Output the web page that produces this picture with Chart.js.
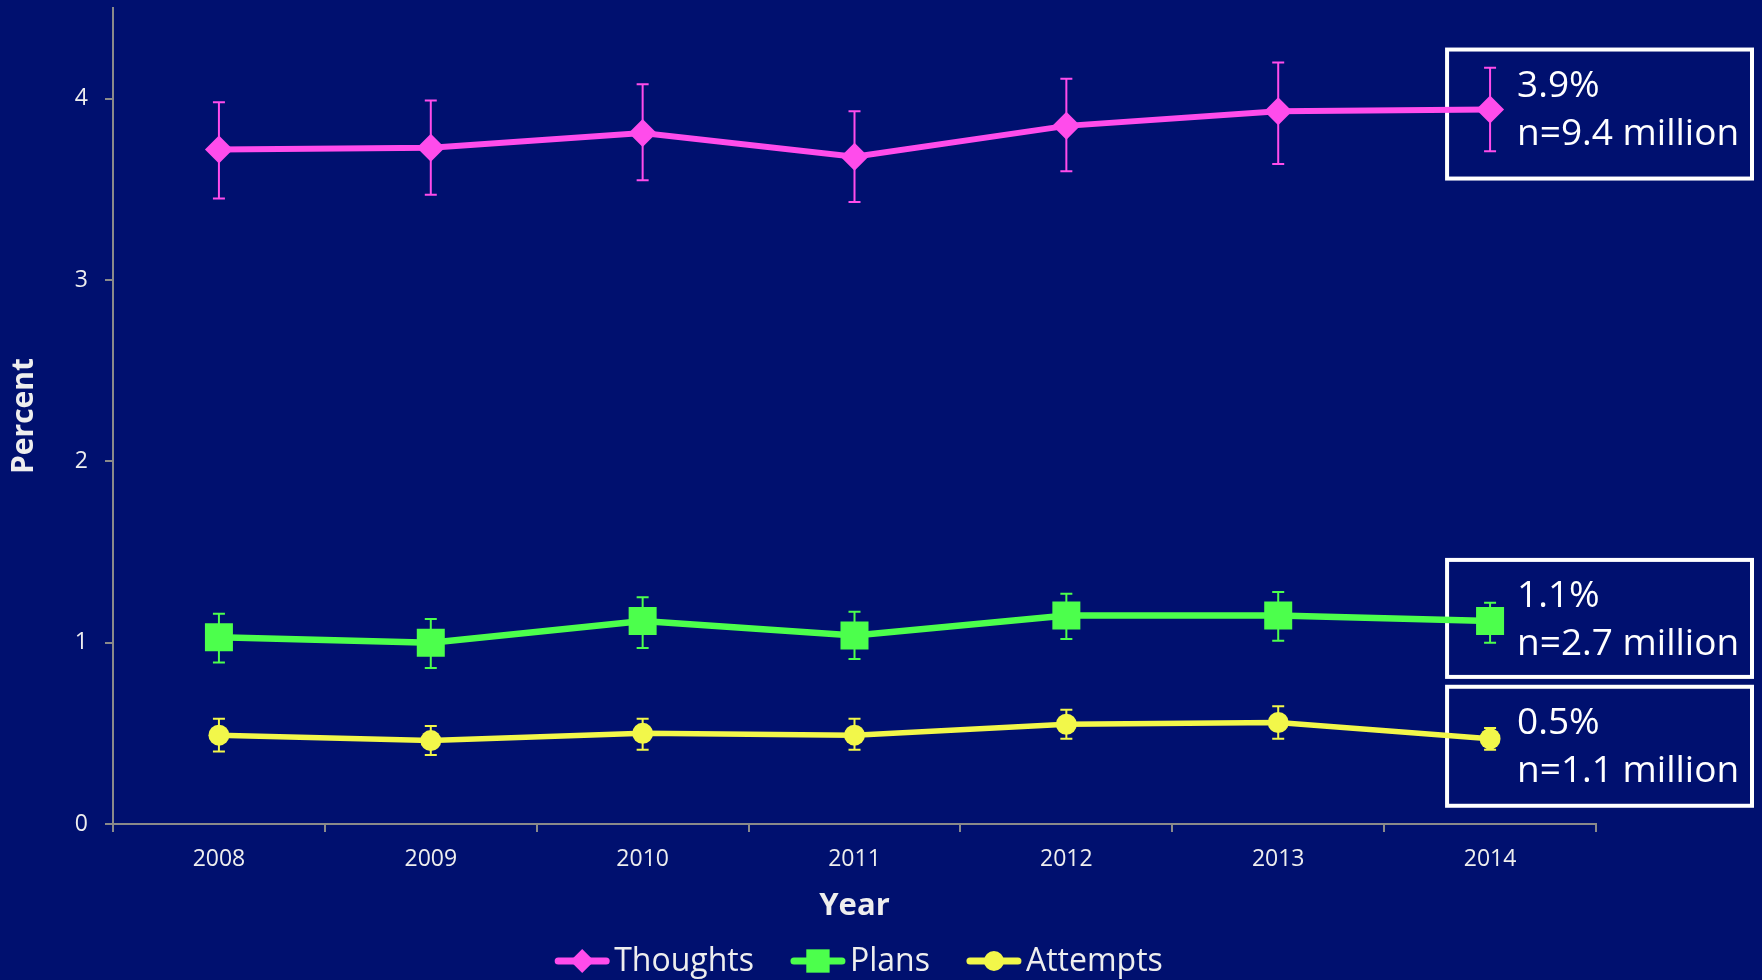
<!DOCTYPE html>
<html>
<head>
<meta charset="utf-8">
<script src="https://cdn.jsdelivr.net/npm/chart.js@4.4.1/dist/chart.umd.min.js"></script>
<style>
  html, body { margin: 0; padding: 0; background: #00106F; }
  #wrap { width: 1762px; height: 980px; }
</style>
</head>
<body>
<div id="wrap"><canvas id="chart" width="1762" height="980"></canvas></div>
<script>
// dati
const years = ['2008', '2009', '2010', '2011', '2012', '2013', '2014'];

const thoughts     = [3.72, 3.73, 3.81, 3.68, 3.85, 3.93, 3.94];
const thoughtsHigh = [3.98, 3.99, 4.08, 3.93, 4.11, 4.20, 4.17];
const thoughtsLow  = [3.45, 3.47, 3.55, 3.43, 3.60, 3.64, 3.71];

const plans     = [1.03, 1.00, 1.12, 1.04, 1.15, 1.15, 1.12];
const plansHigh = [1.16, 1.13, 1.25, 1.17, 1.27, 1.28, 1.22];
const plansLow  = [0.89, 0.86, 0.97, 0.91, 1.02, 1.01, 1.00];

const attempts     = [0.49, 0.46, 0.50, 0.49, 0.55, 0.56, 0.47];
const attemptsHigh = [0.58, 0.54, 0.58, 0.58, 0.63, 0.65, 0.53];
const attemptsLow  = [0.40, 0.38, 0.41, 0.41, 0.47, 0.47, 0.41];

const yTicks = [0, 1, 2, 3, 4];

const boxPercent = ['3.9%', '1.1%', '0.5%'];
const boxCount   = ['n=9.4 million', 'n=2.7 million', 'n=1.1 million'];

const FONT = "'Open Sans', sans-serif";
const TEXT = '#EEEEEE';
const AXIS = '#8A8A8A';
const PINK = '#FF4CEB';
const GREEN = '#4CFF4C';
const YELLOW = '#F2F74A';

Chart.defaults.font.family = FONT;
Chart.defaults.color = TEXT;

// barre di errore, disegnate sotto i marker
const errorBars = {
    id: 'errorBars',
    beforeDatasetsDraw(chart) {
        const ctx = chart.ctx;
        const y = chart.scales.y;
        chart.data.datasets.forEach((ds, i) => {
            const meta = chart.getDatasetMeta(i);
            ctx.save();
            ctx.strokeStyle = ds.borderColor;
            ctx.lineWidth = 2;
            meta.data.forEach((pt, j) => {
                const yh = y.getPixelForValue(ds.errHigh[j]);
                const yl = y.getPixelForValue(ds.errLow[j]);
                ctx.beginPath();
                ctx.moveTo(pt.x, yh); ctx.lineTo(pt.x, yl);
                ctx.moveTo(pt.x - 6, yh); ctx.lineTo(pt.x + 6, yh);
                ctx.moveTo(pt.x - 6, yl); ctx.lineTo(pt.x + 6, yl);
                ctx.stroke();
            });
            ctx.restore();
        });
    }
};

// riquadri con il valore finale
const endBoxes = {
    id: 'endBoxes',
    beforeDatasetsDraw(chart) {
        const ctx = chart.ctx;
        const tops = [-60, -61, -52];
        const heights = [129, 117, 119];
        chart.data.datasets.forEach((ds, i) => {
            const meta = chart.getDatasetMeta(i);
            const pt = meta.data[meta.data.length - 1];
            const left = pt.x - 43;
            const right = chart.width - 10;
            const top = pt.y + tops[i];
            ctx.save();
            ctx.strokeStyle = '#FFFFFF';
            ctx.lineWidth = 4;
            ctx.strokeRect(left, top, right - left, heights[i]);
            ctx.fillStyle = '#FFFFFF';
            ctx.font = '37px ' + FONT;
            ctx.textBaseline = 'alphabetic';
            ctx.textAlign = 'left';
            ctx.fillText(boxPercent[i], pt.x + 27, top + 47);
            ctx.fillText(boxCount[i], pt.x + 27, top + 95);
            ctx.restore();
        });
    }
};

// legenda con linea + marker
const lineLegend = {
    id: 'lineLegend',
    afterDraw(chart) {
        const ctx = chart.ctx;
        const area = chart.chartArea;
        const iconW = 56, gap = 4, itemGap = 36;
        ctx.save();
        ctx.font = '32px ' + FONT;
        const items = chart.data.datasets.map(ds => ({ ds, w: iconW + gap + ctx.measureText(ds.label).width }));
        const total = items.reduce((a, it) => a + it.w, 0) + itemGap * (items.length - 1);
        let x = (area.left + area.right) / 2 + 4 - total / 2;
        const y = 961;
        items.forEach(({ ds, w }) => {
            ctx.strokeStyle = ds.borderColor;
            ctx.fillStyle = ds.borderColor;
            ctx.lineWidth = 7;
            ctx.lineCap = 'round';
            ctx.beginPath();
            ctx.moveTo(x + 4, y);
            ctx.lineTo(x + iconW - 4, y);
            ctx.stroke();
            Chart.helpers.drawPoint(ctx, {
                pointStyle: ds.pointStyle,
                radius: ds.legendRadius,
                rotation: 0,
                borderWidth: 0
            }, x + iconW / 2, y);
            ctx.fillStyle = TEXT;
            ctx.textBaseline = 'middle';
            ctx.textAlign = 'left';
            ctx.fillText(ds.label, x + iconW + gap, y + 1);
            x += w + itemGap;
        });
        ctx.restore();
    }
};

const ctx = document.getElementById('chart').getContext('2d');
new Chart(ctx, {
    type: 'line',
    data: {
        labels: years,
        datasets: [
            {
                label: 'Thoughts',
                data: thoughts,
                errHigh: thoughtsHigh,
                errLow: thoughtsLow,
                borderColor: PINK,
                backgroundColor: PINK,
                borderWidth: 6,
                pointStyle: 'rectRot',
                pointRadius: 14,
                pointHoverRadius: 14,
                pointBorderWidth: 0,
                legendRadius: 12
            },
            {
                label: 'Plans',
                data: plans,
                errHigh: plansHigh,
                errLow: plansLow,
                borderColor: GREEN,
                backgroundColor: GREEN,
                borderWidth: 6.5,
                pointStyle: 'rect',
                pointRadius: 19.8,
                pointHoverRadius: 19.8,
                pointBorderWidth: 0,
                legendRadius: 16.5
            },
            {
                label: 'Attempts',
                data: attempts,
                errHigh: attemptsHigh,
                errLow: attemptsLow,
                borderColor: YELLOW,
                backgroundColor: YELLOW,
                borderWidth: 5.5,
                pointStyle: 'circle',
                pointRadius: 10.5,
                pointHoverRadius: 10.5,
                pointBorderWidth: 0,
                legendRadius: 10
            }
        ]
    },
    options: {
        responsive: false,
        animation: false,
        layout: {
            autoPadding: false,
            padding: { top: 8, right: 166, bottom: 50, left: 0 }
        },
        elements: {
            line: { tension: 0 }
        },
        plugins: {
            legend: { display: false },
            tooltip: { enabled: false }
        },
        scales: {
            x: {
                type: 'category',
                offset: true,
                afterFit: s => { s.height = 106; s.paddingLeft = 0; s.paddingRight = 0; },
                border: { display: true, color: AXIS, width: 2 },
                grid: {
                    offset: true,
                    drawOnChartArea: false,
                    drawTicks: true,
                    tickLength: 8,
                    color: AXIS,
                    lineWidth: 2
                },
                ticks: {
                    padding: 14,
                    color: TEXT,
                    font: { size: 23 }
                },
                title: {
                    display: true,
                    text: 'Year',
                    color: TEXT,
                    padding: { top: 0, bottom: 5 },
                    font: { size: 31, weight: 'bold' }
                }
            },
            y: {
                min: 0,
                max: 4.5,
                afterFit: s => { s.width = 113; s.paddingTop = 0; s.paddingBottom = 0; },
                afterBuildTicks: s => { s.ticks = yTicks.map(v => ({ value: v })); },
                border: { display: true, color: AXIS, width: 2 },
                grid: {
                    drawOnChartArea: false,
                    drawTicks: true,
                    tickLength: 8,
                    color: AXIS,
                    lineWidth: 2
                },
                ticks: {
                    padding: 17,
                    color: TEXT,
                    font: { size: 23 }
                },
                title: {
                    display: true,
                    text: 'Percent',
                    color: TEXT,
                    padding: { top: 6, bottom: 0 },
                    font: { size: 30, weight: 'bold' }
                }
            }
        }
    },
    plugins: [endBoxes, errorBars, lineLegend]
});
</script>
</body>
</html>
